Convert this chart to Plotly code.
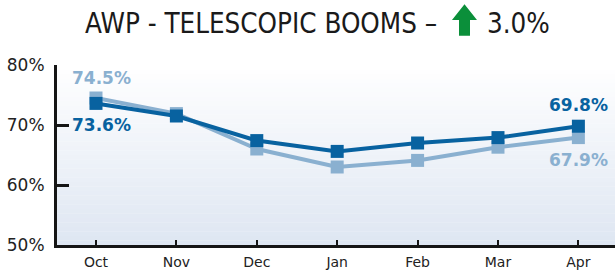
import plotly.graph_objects as go

months = ["Oct", "Nov", "Dec", "Jan", "Feb", "Mar", "Apr"]
current = [73.6, 71.5, 67.4, 65.6, 67.0, 67.9, 69.8]
previous = [74.5, 71.9, 66.0, 63.0, 64.1, 66.3, 67.9]
y_ticks = [50, 60, 70, 80]
y_tick_labels = ["50%", "60%", "70%", "80%"]
title_left = "AWP - TELESCOPIC BOOMS \u2013"
title_right = "3.0%"

DARK = "#0862a0"
LIGHT = "#8ab0d0"

W, H = 615, 270
L, R, T, B = 57, 0, 65, 21
pw, ph = W - L - R, H - T - B

def px(x):
    return (x - L) / pw

def py(y):
    return (H - B - y) / ph

fig = go.Figure()
xs = list(range(len(months)))
fig.add_trace(go.Scatter(x=xs, y=previous, mode="lines+markers",
                         line=dict(color=LIGHT, width=4),
                         marker=dict(symbol="square", size=13, color=LIGHT),
                         showlegend=False, hoverinfo="skip"))
fig.add_trace(go.Scatter(x=xs, y=current, mode="lines+markers",
                         line=dict(color=DARK, width=4),
                         marker=dict(symbol="square", size=13, color=DARK),
                         showlegend=False, hoverinfo="skip"))

# background gradient
shapes = []
n = 40
top = (255, 255, 255)
bot = (222, 230, 242)
for i in range(n):
    t = (i + 0.5) / n
    c = tuple(round(bot[k] + (top[k] - bot[k]) * t) for k in range(3))
    shapes.append(dict(type="rect", xref="paper", yref="paper", x0=0, x1=1,
                       y0=i / n, y1=(i + 1) / n + 0.002, line=dict(width=0),
                       fillcolor="rgb(%d,%d,%d)" % c, layer="below"))

# green arrow in title
ax = [(464.5, 3), (477, 19), (470, 19), (470, 35), (459, 35), (459, 19), (452, 19)]
path = "M " + " L ".join("%f,%f" % (px(a), py(b)) for a, b in ax) + " Z"
shapes.append(dict(type="path", xref="paper", yref="paper", path=path,
                   fillcolor="#0b8f3a", line=dict(width=0)))

lab_font = dict(family="DejaVu Sans", size=17, weight="bold")
title_font = dict(family="DejaVu Sans Condensed, DejaVu Sans", size=27.5, color="#1a1a1a")
annotations = [
    dict(x=0, y=previous[0], xref="x", yref="y", text=f"{previous[0]:.1f}%",
         showarrow=False, yshift=20, xshift=6, font=dict(color=LIGHT, **lab_font)),
    dict(x=0, y=current[0], xref="x", yref="y", text=f"{current[0]:.1f}%",
         showarrow=False, yshift=-22, xshift=6, font=dict(color=DARK, **lab_font)),
    dict(x=6, y=current[-1], xref="x", yref="y", text=f"{current[-1]:.1f}%",
         showarrow=False, yshift=21, xshift=0, font=dict(color=DARK, **lab_font)),
    dict(x=6, y=previous[-1], xref="x", yref="y", text=f"{previous[-1]:.1f}%",
         showarrow=False, yshift=-22, xshift=0, font=dict(color=LIGHT, **lab_font)),
    dict(x=px(439), y=py(22), xref="paper", yref="paper", text=title_left,
         showarrow=False, xanchor="right", yanchor="middle", font=title_font),
    dict(x=px(485), y=py(22), xref="paper", yref="paper", text=title_right,
         showarrow=False, xanchor="left", yanchor="middle", font=title_font),
]

fig.update_layout(
    width=W, height=H,
    margin=dict(l=L, r=R, t=T, b=B, pad=0),
    paper_bgcolor="white", plot_bgcolor="white",
    shapes=shapes, annotations=annotations,
    xaxis=dict(range=[-0.485, pw / 80.4 - 0.485], tickvals=xs, ticktext=months,
               showgrid=False, zeroline=False, showline=True, linewidth=3,
               linecolor="#151515", ticks="inside", ticklen=5, tickwidth=2,
               tickcolor="#151515", ticklabelstandoff=2,
               tickfont=dict(family="DejaVu Sans", size=14, color="#222")),
    yaxis=dict(range=[50, 80], tickvals=y_ticks, ticktext=y_tick_labels,
               showgrid=False, zeroline=False, showline=True, linewidth=3,
               linecolor="#151515", ticks="inside", ticklen=12, tickwidth=3,
               tickcolor="#151515", ticklabelstandoff=6,
               tickfont=dict(family="DejaVu Sans", size=17, color="#222")),
)
fig.write_html("out.html", config={"displayModeBar": False},
               post_script="document.body.style.margin='0';document.body.style.overflow='hidden';")
